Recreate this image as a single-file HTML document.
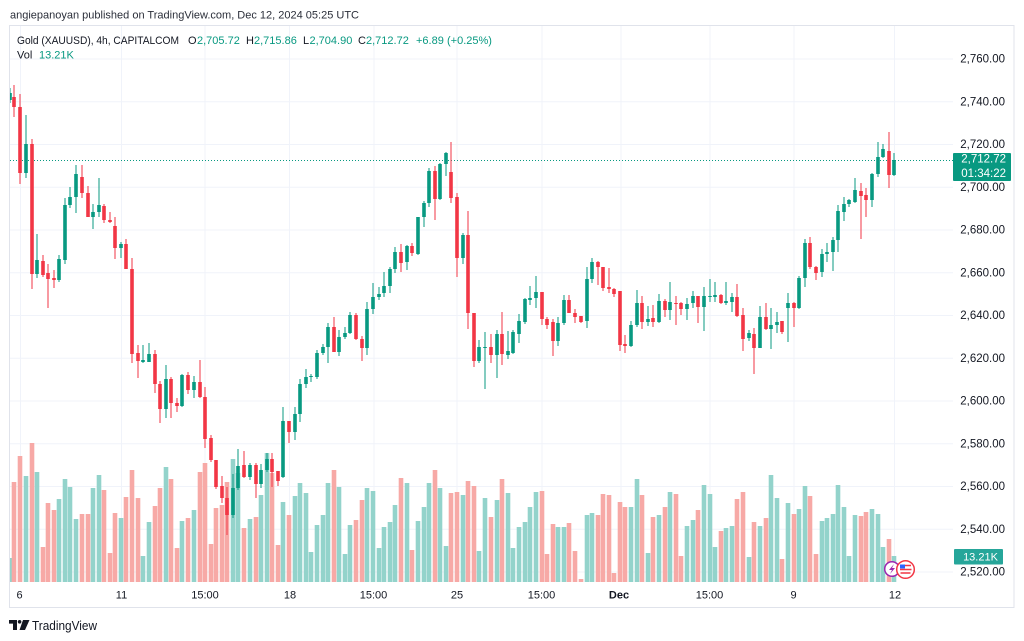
<!DOCTYPE html>
<html>
<head>
<meta charset="utf-8">
<style>
html,body{margin:0;padding:0;background:#ffffff;}
svg{display:block;}
text{font-family:"Liberation Sans",sans-serif;}
</style>
</head>
<body>
<svg width="1024" height="641" viewBox="0 0 1024 641" xmlns="http://www.w3.org/2000/svg">
<rect x="0" y="0" width="1024" height="641" fill="#ffffff"/>
<defs>
<clipPath id="plot"><rect x="10" y="26" width="943" height="556"/></clipPath>
</defs>

<!-- header -->
<text x="10" y="18.5" font-size="11" fill="#2a2e39" textLength="349" lengthAdjust="spacingAndGlyphs">angiepanoyan published on TradingView.com, Dec 12, 2024 05:25 UTC</text>

<!-- frame -->
<rect x="9.5" y="25.5" width="1004.5" height="582" fill="none" stroke="#e0e3eb" stroke-width="1"/>

<!-- grid -->
<g stroke="#f0f3fa" stroke-width="1">
<path d="M10 59H953M10 101.75H953M10 144.5H953M10 187.25H953M10 230H953M10 272.75H953M10 315.5H953M10 358.25H953M10 401H953M10 443.75H953M10 486.5H953M10 529.25H953M10 572H953"/>
<path d="M20.5 26V582M121.5 26V582M205 26V582M289.5 26V582M374 26V582M457 26V582M542 26V582M621 26V582M710 26V582M794 26V582M894.5 26V582"/>
</g>

<g clip-path="url(#plot)">
<!-- volume -->
<path fill="none" stroke="#93d3cb" stroke-width="4.6" d="M10 582V558M26 582V476M37 582V472M59 582V499M65 582V479M70 582V487M76 582V519M93 582V488M99 582V475M121 582V518M143 582V556M149 582V522M166 582V467M182 582V521M194 582V510M233 582V459M238 582V473M250 582V519M261 582V495M267 582V453M283 582V502M295 582V496M300 582V483M306 582V493M311 582V552M317 582V525M323 582V515M328 582V483M339 582V487M345 582V554M350 582V525M367 582V488M373 582V491M379 582V548M384 582V527M390 582V522M395 582V505M407 582V483M418 582V521M424 582V507M429 582V483M440 582V488M446 582V546M463 582V495M479 582V551M485 582V498M497 582V500M508 582V493M513 582V548M519 582V527M525 582V522M530 582V507M536 582V492M558 582V527M564 582V527M587 582V515M592 582V513M631 582V507M637 582V479M648 582V553M659 582V515M670 582V492M687 582V526M693 582V520M704 582V485M710 582V494M715 582V547M726 582V528M732 582V526M749 582V557M760 582V526M771 582V475M777 582V498M788 582V503M799 582V509M805 582V486M822 582V521M827 582V518M833 582V514M838 582V485M844 582V507M849 582V556M855 582V515M872 582V509M878 582V514M883 582V547M894 582V556"/>
<path fill="none" stroke="#f7a9a6" stroke-width="4.6" d="M14 582V482M20 582V456M32 582V443M43 582V547M48 582V503M54 582V510M82 582V514M88 582V514M104 582V490M110 582V553M115 582V513M126 582V497M132 582V470M138 582V498M155 582V506M160 582V488M171 582V479M177 582V548M188 582V518M200 582V472M205 582V463M211 582V544M216 582V508M222 582V505M227 582V482M244 582V528M256 582V517M272 582V473M278 582V545M289 582V515M334 582V470M356 582V520M362 582V500M401 582V478M412 582V550M435 582V470M451 582V493M457 582V492M468 582V481M474 582V486M491 582V517M502 582V479M542 582V491M547 582V554M553 582V524M569 582V523M575 582V551M581 582V579M598 582V515M603 582V494M609 582V495M614 582V573M620 582V502M625 582V507M642 582V495M653 582V517M665 582V507M676 582V494M681 582V556M698 582V510M721 582V531M737 582V499M743 582V492M754 582V522M766 582V518M782 582V559M794 582V514M810 582V496M816 582V554M861 582V516M866 582V512M889 582V539"/>

<!-- price line -->
<path d="M10 160.5H953" stroke="#089981" stroke-width="1" stroke-dasharray="1 2"/>

<!-- candles green -->
<path fill="none" stroke="#089981" stroke-width="1" d="M10 88V103M26 115V178M37 234V278M59 255V282M65 198V264M70 187V208M76 165V213M93 204V229M99 178V217M121 242V258M143 345V363M149 343V362M166 365V418M182 374V407M194 376V398M233 474V518M238 449V490M250 463V480M261 464V488M267 453V472M283 407V478M295 407V440M300 379V422M306 369V388M311 374V382M317 350V379M323 344V355M328 323V363M339 330V356M345 327V339M350 312V334M367 302V355M373 283V314M379 287V300M384 272V297M390 267V293M395 247V273M407 245V270M418 217V255M424 201V227M429 168V207M440 163V200M446 152V176M463 233V264M479 340V363M485 332V389M497 330V378M508 331V359M513 330V354M519 314V343M525 298V324M530 286V305M536 276V308M558 317V346M564 295V325M587 267V328M592 258V283M631 321V347M637 290V327M648 306V326M659 294V323M670 282V320M687 298V320M693 291V308M704 287V331M710 279V302M715 282V302M726 282V305M732 293V312M749 330V341M760 306V348M771 308V349M777 312V333M788 293V342M799 276V309M805 239V287M822 249V277M827 243V262M833 237V271M838 205V252M844 197V221M849 199V207M855 178V203M872 173V207M878 142V177M883 144V158M894 153V176"/>
<path fill="none" stroke="#089981" stroke-width="3.6" d="M10 93V100M26 144V173M37 260V274M59 259V280M65 205V260M70 197V205M76 174V197M93 212V217M99 205V212M121 244V248M143 360V362M149 354V362M166 379V409M182 375V406M194 382V390M233 488V515M238 466V488M250 465V477M261 470V484M267 459V470M283 421V477M295 414V432M300 384V414M306 377V384M311 376V377M317 353V377M323 347V353M328 327V347M339 337V352M345 333V337M350 315V333M367 309V348M373 297V309M379 294V297M384 286V293M390 269V286M395 252V269M407 246V262M418 217V254M424 203V217M429 171V203M440 164V199M446 153V164M463 235V258M479 347V361M485 347V348M497 334V355M508 351V355M513 332V353M519 321V334M525 299V322M530 298V300M536 292V298M558 323V341M564 300V323M587 279V321M592 262V279M631 325V346M637 303V325M648 319V322M659 301V322M670 302V310M687 304V309M693 296V303M704 296V307M710 296V297M715 295V297M726 301V303M732 297V302M749 333V338M760 317V348M771 325V329M777 322V325M788 303V308M799 278V308M805 243V278M822 254V272M827 252V254M833 240V252M838 211V240M844 204V212M849 200V204M855 190V202M872 174V200M878 157V174M883 149V157M894 160V175"/>
<!-- candles red -->
<path fill="none" stroke="#f23645" stroke-width="1" d="M14 85V117M20 94V184M32 139V289M43 255V277M48 264V308M54 270V288M82 165V198M88 186V217M104 204V223M110 212V223M115 217V259M126 239V269M132 258V363M138 345V378M155 350V393M160 381V423M171 377V418M177 398V412M188 372V394M200 360V398M205 387V448M211 435V462M216 460V489M222 476V503M227 487V535M244 451V478M256 463V498M272 453V487M278 471V486M289 421V443M334 317V352M356 313V340M362 336V361M401 244V272M412 243V256M435 166V220M451 142V203M457 193V277M468 211V329M474 313V367M491 334V363M502 312V365M542 292V325M547 317V329M553 319V356M569 295V313M575 309V323M581 316V323M598 261V285M603 267V291M609 268V293M614 288V297M620 291V351M625 335V353M642 296V329M653 305V327M665 299V317M676 296V325M681 302V315M698 296V323M721 294V304M737 284V317M743 308V351M754 328V374M766 303V330M782 321V334M794 302V327M810 237V269M816 266V280M861 183V239M866 188V217M889 132V188"/>
<path fill="none" stroke="#f23645" stroke-width="3.6" d="M14 97V107M20 107V173M32 144V274M43 261V275M48 273V279M54 278V280M82 177V193M88 193V217M104 206V220M110 220V222M115 226V248M126 244V269M132 269V354M138 353V361M155 354V384M160 384V409M171 379V403M177 403V406M188 375V390M200 382V397M205 397V439M211 438V460M216 460V487M222 486V498M227 498V515M244 465V477M256 465V484M272 459V472M278 471V481M289 421V432M334 327V352M356 315V339M362 339V348M401 252V263M412 246V253M435 171V199M451 172V198M457 197V258M468 235V313M474 313V361M491 347V355M502 334V354M542 292V319M547 319V325M553 322V341M569 300V313M575 313V317M581 316V322M598 262V267M603 267V288M609 287V289M614 289V294M620 291V345M625 344V346M642 303V322M653 318V322M665 301V310M676 303V304M681 303V309M698 296V307M721 295V303M737 297V316M743 315V339M754 334V348M766 317V329M782 321V332M794 303V308M810 243V267M816 267V273M861 191V196M866 195V200M889 151V175"/>

<!-- event icons -->
<circle cx="892" cy="569" r="7.3" fill="#ffffff" stroke="#9c27b0" stroke-width="1.5"/>
<path d="M894 564 L889 570 L892 570 L890 574 L895 568 L892 568 Z" fill="#9c27b0"/>
<circle cx="905.5" cy="569.5" r="8.8" fill="#ffffff" stroke="#f23645" stroke-width="1.5"/>
<rect x="900" y="564.5" width="5" height="4" fill="#2962ff"/>
<path d="M905 565.5H911M900 569.5H911.5M900.5 573H910.5" stroke="#f23645" stroke-width="1.5"/>
</g>

<!-- legend -->
<text x="17" y="44" font-size="11" fill="#131722" textLength="162" lengthAdjust="spacingAndGlyphs">Gold (XAUUSD), 4h, CAPITALCOM</text>
<text y="44" font-size="11" fill="#131722"><tspan x="188">O</tspan><tspan x="197" fill="#089981">2,705.72</tspan><tspan x="246">H</tspan><tspan x="254" fill="#089981">2,715.86</tspan><tspan x="303">L</tspan><tspan x="309.5" fill="#089981">2,704.90</tspan><tspan x="358">C</tspan><tspan x="366" fill="#089981">2,712.72</tspan><tspan x="416" fill="#089981">+6.89</tspan><tspan x="447" fill="#089981">(+0.25%)</tspan></text>
<text y="58.5" font-size="11" fill="#131722"><tspan x="17">Vol</tspan><tspan x="39" fill="#089981">13.21K</tspan></text>

<!-- price axis labels -->
<g font-size="11.5" fill="#131722" text-anchor="end">
<text x="1005" y="62.5">2,760.00</text>
<text x="1005" y="105.25">2,740.00</text>
<text x="1005" y="148">2,720.00</text>
<text x="1005" y="190.75">2,700.00</text>
<text x="1005" y="233.5">2,680.00</text>
<text x="1005" y="276.25">2,660.00</text>
<text x="1005" y="319">2,640.00</text>
<text x="1005" y="361.75">2,620.00</text>
<text x="1005" y="404.5">2,600.00</text>
<text x="1005" y="447.25">2,580.00</text>
<text x="1005" y="490">2,560.00</text>
<text x="1005" y="532.75">2,540.00</text>
<text x="1005" y="575.5">2,520.00</text>
</g>

<!-- current price label -->
<rect x="953" y="153" width="58" height="28" rx="1" fill="#089981"/>
<text x="1006" y="162.5" font-size="11.5" fill="#ffffff" text-anchor="end">2,712.72</text>
<text x="1006" y="177" font-size="11.5" fill="#ffffff" text-anchor="end">01:34:22</text>

<!-- volume label -->
<rect x="954" y="549" width="49" height="15.5" rx="1" fill="#26a69a"/>
<text x="980.5" y="560.7" font-size="11" fill="#ffffff" text-anchor="middle">13.21K</text>

<!-- time axis labels -->
<g font-size="11" fill="#131722" text-anchor="middle">
<text x="19.5" y="598.5">6</text>
<text x="121.5" y="598.5">11</text>
<text x="205" y="598.5">15:00</text>
<text x="290" y="598.5">18</text>
<text x="373.5" y="598.5">15:00</text>
<text x="457" y="598.5">25</text>
<text x="541.5" y="598.5">15:00</text>
<text x="619" y="598.5" font-weight="bold">Dec</text>
<text x="709.5" y="598.5">15:00</text>
<text x="793.5" y="598.5">9</text>
<text x="895" y="598.5">12</text>
</g>

<!-- TradingView logo -->
<polygon points="9,620 17,620 17,630 13,630 13,623.6 9,623.6" fill="#131722"/>
<circle cx="19.6" cy="621.8" r="1.8" fill="#131722"/>
<polygon points="23,620 29.5,620 25,630 19.5,630" fill="#131722"/>
<text x="32" y="630" font-size="12.5" fill="#131722" textLength="65" lengthAdjust="spacingAndGlyphs">TradingView</text>
</svg>
</body>
</html>
